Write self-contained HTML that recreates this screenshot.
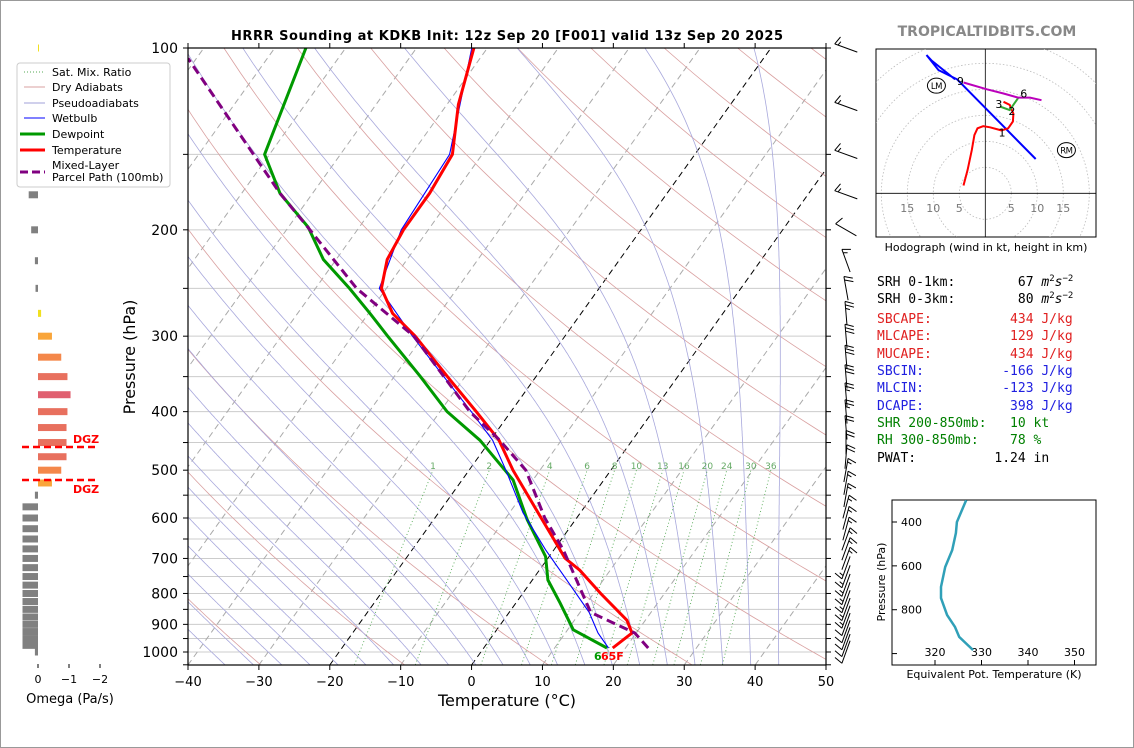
<!DOCTYPE html>
<html><head><meta charset="utf-8">
<style>
html,body{margin:0;padding:0;background:#fff;}
svg{display:block;font-family:"DejaVu Sans","Liberation Sans",sans-serif;}
.mono{font-family:"DejaVu Sans Mono","Liberation Mono",monospace;font-size:13px;}
</style></head>
<body>
<svg id="fig" width="1134" height="748" viewBox="0 0 1134 748" xmlns="http://www.w3.org/2000/svg">
<rect x="0.5" y="0.5" width="1133" height="747" fill="#fff" stroke="#999"/>
<defs><clipPath id="mainclip"><rect x="188" y="48" width="638" height="617"/></clipPath>
<clipPath id="hodoclip"><rect x="876" y="49" width="220" height="188"/></clipPath>
<clipPath id="thclip"><rect x="892" y="500" width="204" height="165"/></clipPath></defs>
<text x="507" y="40" text-anchor="middle" font-weight="bold" font-size="13" textLength="552">HRRR Sounding at KDKB Init: 12z Sep 20 [F001] valid 13z Sep 20 2025</text>
<text x="987" y="36" text-anchor="middle" font-weight="bold" font-size="14" fill="#888">TROPICALTIDBITS.COM</text>
<g id="bg" clip-path="url(#mainclip)"></g>
<g id="prof" clip-path="url(#mainclip)"></g>
<g id="axes"></g>
<g id="barbs"></g>
<g id="omega"></g>
<g id="hodo"></g>
<g id="theta"></g>
<g>
<rect x="17" y="63" width="153" height="124" rx="3" fill="#fff" stroke="#ccc"/>
<line x1="24" y1="72" x2="45" y2="72" stroke="#5a5" stroke-dasharray="1,2"/><text x="52" y="76" font-size="11">Sat. Mix. Ratio</text>
<line x1="24" y1="87" x2="45" y2="87" stroke="#d9a0a0"/><text x="52" y="91" font-size="11">Dry Adiabats</text>
<line x1="24" y1="103" x2="45" y2="103" stroke="#a0a0d8"/><text x="52" y="107" font-size="11">Pseudoadiabats</text>
<line x1="24" y1="118" x2="45" y2="118" stroke="#00f"/><text x="52" y="122" font-size="11">Wetbulb</text>
<line x1="20" y1="134" x2="45" y2="134" stroke="#090" stroke-width="3"/><text x="52" y="138" font-size="11">Dewpoint</text>
<line x1="20" y1="150" x2="45" y2="150" stroke="#f00" stroke-width="3"/><text x="52" y="154" font-size="11">Temperature</text>
<line x1="20" y1="172" x2="45" y2="172" stroke="#800080" stroke-width="3" stroke-dasharray="8,4"/><text x="52" y="169" font-size="11">Mixed-Layer</text><text x="52" y="181" font-size="11">Parcel Path (100mb)</text>
</g>
<g class="mono">
<text x="877" y="286" xml:space="preserve">SRH 0-1km:        67 <tspan font-style="italic">m</tspan><tspan font-size="9" dy="-5">2</tspan><tspan font-style="italic" dy="5">s</tspan><tspan font-size="9" dy="-5">−2</tspan></text>
<text x="877" y="303" xml:space="preserve">SRH 0-3km:        80 <tspan font-style="italic">m</tspan><tspan font-size="9" dy="-5">2</tspan><tspan font-style="italic" dy="5">s</tspan><tspan font-size="9" dy="-5">−2</tspan></text>
<text x="877" y="323" fill="#e02020" xml:space="preserve">SBCAPE:          434 J/kg</text>
<text x="877" y="340" fill="#e02020" xml:space="preserve">MLCAPE:          129 J/kg</text>
<text x="877" y="358" fill="#e02020" xml:space="preserve">MUCAPE:          434 J/kg</text>
<text x="877" y="375" fill="#2020e0" xml:space="preserve">SBCIN:          -166 J/kg</text>
<text x="877" y="392" fill="#2020e0" xml:space="preserve">MLCIN:          -123 J/kg</text>
<text x="877" y="410" fill="#2020e0" xml:space="preserve">DCAPE:           398 J/kg</text>
<text x="877" y="427" fill="#008000" xml:space="preserve">SHR 200-850mb:   10 kt</text>
<text x="877" y="444" fill="#008000" xml:space="preserve">RH 300-850mb:    78 %</text>
<text x="877" y="462" xml:space="preserve">PWAT:          1.24 in</text>
</g>
<script>
// ---- data ----
const tempP=[985,930,886,800,732,699,600,500,446,400,350,300,275,250,224,200,174,150,124,100];
const tempT=[18.2,19.4,17.4,11,5.7,2.4,-5,-13.8,-18.8,-24.9,-32.5,-41.1,-46.6,-50.7,-52.8,-53.5,-53.5,-54.2,-58.4,-61.9];
const dewP=[985,919,829,760,695,604,519,446,400,350,300,275,250,224,198,174,150,100];
const dewT=[17.4,10.8,6.2,2.2,-0.5,-6.8,-12.8,-21.5,-29,-36.3,-45,-49.8,-55.2,-61.8,-67.2,-74.6,-80.7,-85.6];
const wbP=[985,930,860,752,677,588,500,446,400,350,300,250,200,150,100];
const wbT=[17.6,14.6,11.3,4.3,-1.2,-8.1,-14.8,-19.7,-25.6,-33,-41.5,-51,-53.8,-54.6,-62.2];
const parP=[985,930,860,677,600,500,446,400,300,250,200,174,104];
const parT=[23.2,19.8,11.5,1.3,-4.5,-12,-18.7,-25.8,-41.3,-54.2,-66.7,-74.6,-101.2];
const pLabels=[100,200,300,400,500,600,700,800,900,1000];
const pGrid=[100,150,200,250,300,350,400,450,500,550,600,650,700,750,800,850,900,950,1000];
const tTicks=[-40,-30,-20,-10,0,10,20,30,40,50];
const mixW=[1,2,4,6,8,10,13,16,20,24,30,36];
const omegaP=[100,150,175,200,225,250,275,300,325,350,375,400,425,450,475,500,525,550,575,600,625,650,675,700,725,750,775,800,825,850,875,900,925,950,975,1000];
const omegaV=[-0.03,0.15,0.3,0.22,0.1,0.08,-0.1,-0.45,-0.75,-0.95,-1.05,-0.95,-0.92,-0.92,-0.92,-0.75,-0.45,0.1,0.5,0.5,0.5,0.5,0.5,0.5,0.5,0.5,0.5,0.5,0.5,0.5,0.5,0.5,0.5,0.5,0.5,0.1];
const barbP=[100,125,150,175,200,225,250,275,300,325,350,375,400,425,450,475,500,525,550,575,600,625,650,675,700,725,750,775,800,825,850,875,900,925,950,975,1000];
const barbDir=[290,290,290,290,300,340,350,355,355,355,355,355,355,355,0,5,10,10,10,15,15,15,20,20,20,200,200,200,200,200,200,200,200,200,200,200,200];
const barbSpd=[15,15,15,15,10,15,20,25,30,30,30,25,25,20,20,20,15,15,15,15,15,15,15,15,15,15,15,15,15,15,15,15,10,10,10,10,10];
const hodoRedU=[-4.2,-3.4,-2.6,-2.1,-1.5,-0.4,0.9,3.1,4.4,5.3,5.4,4.7,3.5];
const hodoRedV=[1.5,4.5,8.3,11.2,12.5,12.9,12.7,12.1,12.5,13.8,15.3,17,17.6];
const hodoGreenU=[2.8,4.7,6.3];
const hodoGreenV=[16.7,16,18.3];
const hodoPurpU=[10.8,8.6,6.3,3.5,0.3,-4.2];
const hodoPurpV=[17.9,18.4,18.4,19.2,20,21.3];
const hodoBlueU=[9.7,-5.4,-9,-11.3,-10.3,-5.8];
const hodoBlueV=[6.6,21.9,23.7,26.6,25.5,21.9];
const thetaP=[300,400,450,528,605,696,747,824,879,924,984];
const thetaE=[326.7,324.7,324.5,323.7,322.2,321.3,321.3,322.6,324.3,325.2,328.2];

// ---- helpers ----
const NS="http://www.w3.org/2000/svg";
function mk(tag,attrs,parent){const e=document.createElementNS(NS,tag);for(const k in attrs)e.setAttribute(k,attrs[k]);parent.appendChild(e);return e;}
const X0=188,PXC=7.089,K=0.715,YB=665;
function yP(p){return 48+604*Math.log10(p/100);}
function xT(T,y){return X0+(T+40)*PXC+K*(YB-y);}
function pts(P,T){return P.map((p,i)=>{const y=yP(p);return xT(T[i],y).toFixed(1)+","+y.toFixed(1);}).join(" ");}
const bg=document.getElementById('bg'),prof=document.getElementById('prof'),ax=document.getElementById('axes');

// horizontal grid
pGrid.forEach(p=>{const y=yP(p);const l=mk('line',{x1:188,x2:826,y1:y,y2:y,stroke:'#ccc','stroke-width':1},bg);

});
// isotherms
for(let T=-120;T<=50;T+=10){const blk=(T===0||T===-20);const l=mk('line',{x1:xT(T,665),y1:665,x2:xT(T,48),y2:48,stroke:blk?'#000':'#aaa','stroke-width':1,'stroke-dasharray':'6,4'},bg);

}
// dry adiabats
for(let th=200;th<=520;th+=20){let d='';for(let p=1050;p>=100;p-=10){const T=th*Math.pow(p/1000,0.286)-273.15;const y=yP(p);d+=(d?'L':'M')+xT(T,y).toFixed(1)+','+y.toFixed(1);}
const l=mk('path',{d:d,fill:'none',stroke:'#d9a0a0','stroke-width':0.8},bg);

}
// moist adiabats
function es(Tc){return 6.112*Math.exp(17.67*Tc/(Tc+243.5));}
function dTdp(Tk,p){const Rd=287.04,cp=1005.7,Lv=2.501e6,eps=0.622;const e=es(Tk-273.15);const rs=eps*e/(p-e);
return (Rd*Tk+Lv*rs)/(cp+Lv*Lv*rs*eps/(Rd*Tk*Tk))/p;}
for(let T0=-38;T0<=44;T0+=4){let pts2=[];let Tk=T0+273.15;
for(let p=1000;p<=1050;p+=2){pts2.push([p,Tk]);Tk+=dTdp(Tk,p)*2;}
pts2=pts2.reverse();Tk=T0+273.15;
for(let p=1000;p>=100;p-=2){pts2.push([p,Tk]);Tk-=dTdp(Tk,p)*2;}
let d='';pts2.forEach(q=>{const y=yP(q[0]);d+=(d?'L':'M')+xT(q[1]-273.15,y).toFixed(1)+','+y.toFixed(1);});
const l=mk('path',{d:d,fill:'none',stroke:'#a8a8dc','stroke-width':0.8},bg);

}
// mixing ratio
function tdw(w,p){const e=w*p/(622+w);const g=Math.log(e/6.112);return 243.5*g/(17.67-g);}
mixW.forEach(w=>{const y1=yP(1050),y2=yP(500);const l=mk('line',{x1:xT(tdw(w,1050),y1),y1:y1,x2:xT(tdw(w,500),y2),y2:y2,stroke:'#5a5','stroke-width':0.9,'stroke-dasharray':'1,2.5'},bg);


const t=mk('text',{x:xT(tdw(w,500),y2),y:y2-1,'text-anchor':'middle','font-size':9,fill:'#6a6'},bg);t.textContent=w;

});

// profiles
let e;
e=mk('polyline',{points:pts(dewP,dewT),fill:'none',stroke:'#090','stroke-width':3},prof);


e=mk('polyline',{points:pts(wbP,wbT),fill:'none',stroke:'#00f','stroke-width':1.1},prof);


e=mk('polyline',{points:pts(tempP,tempT),fill:'none',stroke:'#f00','stroke-width':3},prof);


e=mk('polyline',{points:pts(parP,parT),fill:'none',stroke:'#800080','stroke-width':3,'stroke-dasharray':'9,5'},prof);


e=mk('text',{x:594,y:660,'font-size':11,'font-weight':'bold',fill:'#090'},prof);e.textContent='6';


e=mk('text',{x:601,y:660,'font-size':11,'font-weight':'bold',fill:'#f00'},prof);e.textContent='65F';



// axes frame
mk('rect',{x:188,y:48,width:638,height:617,fill:'none',stroke:'#000','stroke-width':1.2},ax);
pGrid.concat([1050]).forEach(p=>{const y=yP(p);mk('line',{x1:183,x2:188,y1:y,y2:y,stroke:'#000'},ax);mk('line',{x1:826,x2:831,y1:y,y2:y,stroke:'#000'},ax);});
pLabels.forEach(p=>{const t=mk('text',{x:178,y:yP(p)+5,'text-anchor':'end','font-size':14},ax);t.textContent=p;

});
tTicks.forEach(T=>{const x=X0+(T+40)*PXC;mk('line',{x1:x,x2:x,y1:665,y2:670,stroke:'#000'},ax);mk('line',{x1:x,x2:x,y1:43,y2:48,stroke:'#000'},ax);
const t=mk('text',{x:x,y:686,'text-anchor':'middle','font-size':13},ax);t.textContent=(T<0?'\u2212'+(-T):T);

});
e=mk('text',{x:507,y:706,'text-anchor':'middle','font-size':16},ax);e.textContent='Temperature (°C)';


e=mk('text',{x:0,y:0,'text-anchor':'middle','font-size':16,transform:'translate(135,357) rotate(-90)'},ax);e.textContent='Pressure (hPa)';



// barbs
const bb=document.getElementById('barbs');
barbP.forEach((p,i)=>{const a=barbDir[i]*Math.PI/180;const L=24;const dx=Math.sin(a)*L,dy=-Math.cos(a)*L;
const cx=846,cy=yP(p);const bx=cx-dx/2,by=cy-dy/2,tx=bx+dx,ty=by+dy;
let d='M'+bx.toFixed(1)+','+by.toFixed(1)+'L'+tx.toFixed(1)+','+ty.toFixed(1);
const ux=dx/L,uy=dy/L;const ra=-70*Math.PI/180;const rx=ux*Math.cos(ra)-uy*Math.sin(ra),ry=ux*Math.sin(ra)+uy*Math.cos(ra);
let s=barbSpd[i],k=0;
while(s>=10){const sx=tx-ux*k*3.5,sy=ty-uy*k*3.5;d+='M'+sx.toFixed(1)+','+sy.toFixed(1)+'l'+(-rx*9).toFixed(1)+','+(-ry*9).toFixed(1);s-=10;k++;}
if(s>=5){if(k===0)k=1;const sx=tx-ux*k*3.5,sy=ty-uy*k*3.5;d+='M'+sx.toFixed(1)+','+sy.toFixed(1)+'l'+(-rx*4.5).toFixed(1)+','+(-ry*4.5).toFixed(1);}
const b=mk('path',{d:d,fill:'none',stroke:'#000','stroke-width':1},bb);

});

// omega panel
const om=document.getElementById('omega');
function omX(v){return 38-31*v;}
function omColor(v){if(v>=0)return '#808080';if(v>-0.2)return '#f0e020';if(v>-0.6)return '#f9a53a';if(v>-0.85)return '#f4874a';if(v>-1)return '#e8705e';return '#e06070';}
omegaP.forEach((p,i)=>{const v=omegaV[i];const x1=omX(v);const x=Math.min(x1,38),w=Math.abs(x1-38);const y=yP(p);
const r=mk('rect',{x:x,y:y-3.5,width:Math.max(w,1),height:7,fill:omColor(v)},om);

});
[0,-1,-2].forEach(v=>{const x=omX(v);mk('line',{x1:x,x2:x,y1:664,y2:668,stroke:'#000'},om);
const t=mk('text',{x:x,y:683,'text-anchor':'middle','font-size':11},om);t.textContent=v<0?'\u2212'+(-v):v;

});
e=mk('text',{x:70,y:703,'text-anchor':'middle','font-size':13},om);e.textContent='Omega (Pa/s)';


[447,480].forEach((y,i)=>{const l=mk('line',{x1:22,x2:98,y1:y,y2:y,stroke:'#f00','stroke-width':2.5,'stroke-dasharray':'7,4'},om);


const t=mk('text',{x:73,y:i?493:443,'font-size':11,'font-weight':'bold',fill:'#f00'},om);t.textContent='DGZ';

});

// hodograph
const hg=document.getElementById('hodo');
const HX=985.3,HY=193.3,HS=5.2;
mk('rect',{x:876,y:49,width:220,height:188,fill:'#fff',stroke:'#000','stroke-width':1},hg);
const hc=mk('g',{'clip-path':'url(#hodoclip)'},hg);
for(let r=5;r<=40;r+=5){mk('circle',{cx:HX,cy:HY,r:r*HS,fill:'none',stroke:'#bbb','stroke-width':0.8,'stroke-dasharray':'1.5,2'},hc);}
mk('line',{x1:876,x2:1096,y1:HY,y2:HY,stroke:'#000','stroke-width':0.8},hc);
mk('line',{x1:HX,x2:HX,y1:49,y2:237,stroke:'#000','stroke-width':0.8},hc);
[-15,-10,-5,5,10,15].forEach(v=>{const t=mk('text',{x:HX+v*HS,y:212,'text-anchor':'middle','font-size':11,fill:'#777'},hc);t.textContent=Math.abs(v);

});
function hpts(U,V){return U.map((u,i)=>(HX+u*HS).toFixed(1)+','+(HY-V[i]*HS).toFixed(1)).join(' ');}
[[hodoBlueU,hodoBlueV,'#00f','hodo-blue-segment'],[hodoRedU,hodoRedV,'#f00','hodo-0-3km-segment'],[hodoGreenU,hodoGreenV,'#3a3','hodo-3-6km-segment'],[hodoPurpU,hodoPurpV,'#b0b','hodo-6-9km-segment']].forEach(s=>{
const l=mk('polyline',{points:hpts(s[0],s[1]),fill:'none',stroke:s[2],'stroke-width':2},hc);

});
[['9',-4.8,21.6],['6',7.4,19.2],['3',2.6,17.2],['2',5.1,15.8],['1',3.2,11.7]].forEach(a=>{const t=mk('text',{x:HX+a[1]*HS,y:HY-a[2]*HS+4,'text-anchor':'middle','font-size':11},hc);t.textContent=a[0];

});
[['LM',-9.4,20.7],['RM',15.6,8.3]].forEach(a=>{const cx=HX+a[1]*HS,cy=HY-a[2]*HS;mk('ellipse',{cx:cx,cy:cy,rx:9,ry:7.5,fill:'#fff',stroke:'#000'},hc);
const t=mk('text',{x:cx,y:cy+3.5,'text-anchor':'middle','font-size':8.5,'letter-spacing':'-0.5'},hc);t.textContent=a[0];

});
e=mk('text',{x:986,y:251,'text-anchor':'middle','font-size':11},hg);e.textContent='Hodograph (wind in kt, height in km)';



// theta-e panel
const th=document.getElementById('theta');
function thX(t){return 935+(t-320)*4.65;}
function thY(p){return 522+(p-400)*0.2193;}
mk('rect',{x:892,y:500,width:204,height:165,fill:'#fff',stroke:'#000','stroke-width':1},th);
[400,600,800,1000].forEach(p=>{const y=thY(p);mk('line',{x1:892,x2:897,y1:y,y2:y,stroke:'#000'},th);
if(p<1000){const t=mk('text',{x:922,y:y+4,'text-anchor':'end','font-size':11},th);t.textContent=p;

}});
[320,330,340,350].forEach(v=>{const x=thX(v);mk('line',{x1:x,x2:x,y1:660,y2:665,stroke:'#000'},th);
const t=mk('text',{x:x,y:656,'text-anchor':'middle','font-size':11},th);t.textContent=v;

});
e=mk('polyline',{points:thetaP.map((p,i)=>thX(thetaE[i]).toFixed(1)+','+thY(p).toFixed(1)).join(' '),fill:'none',stroke:'#30a0b8','stroke-width':2.5,'clip-path':'url(#thclip)'},th);


e=mk('text',{x:994,y:678,'text-anchor':'middle','font-size':11},th);e.textContent='Equivalent Pot. Temperature (K)';


e=mk('text',{x:0,y:0,'text-anchor':'middle','font-size':11,transform:'translate(885,582) rotate(-90)'},th);e.textContent='Pressure (hPa)';


</script>
</svg>
</body></html>
